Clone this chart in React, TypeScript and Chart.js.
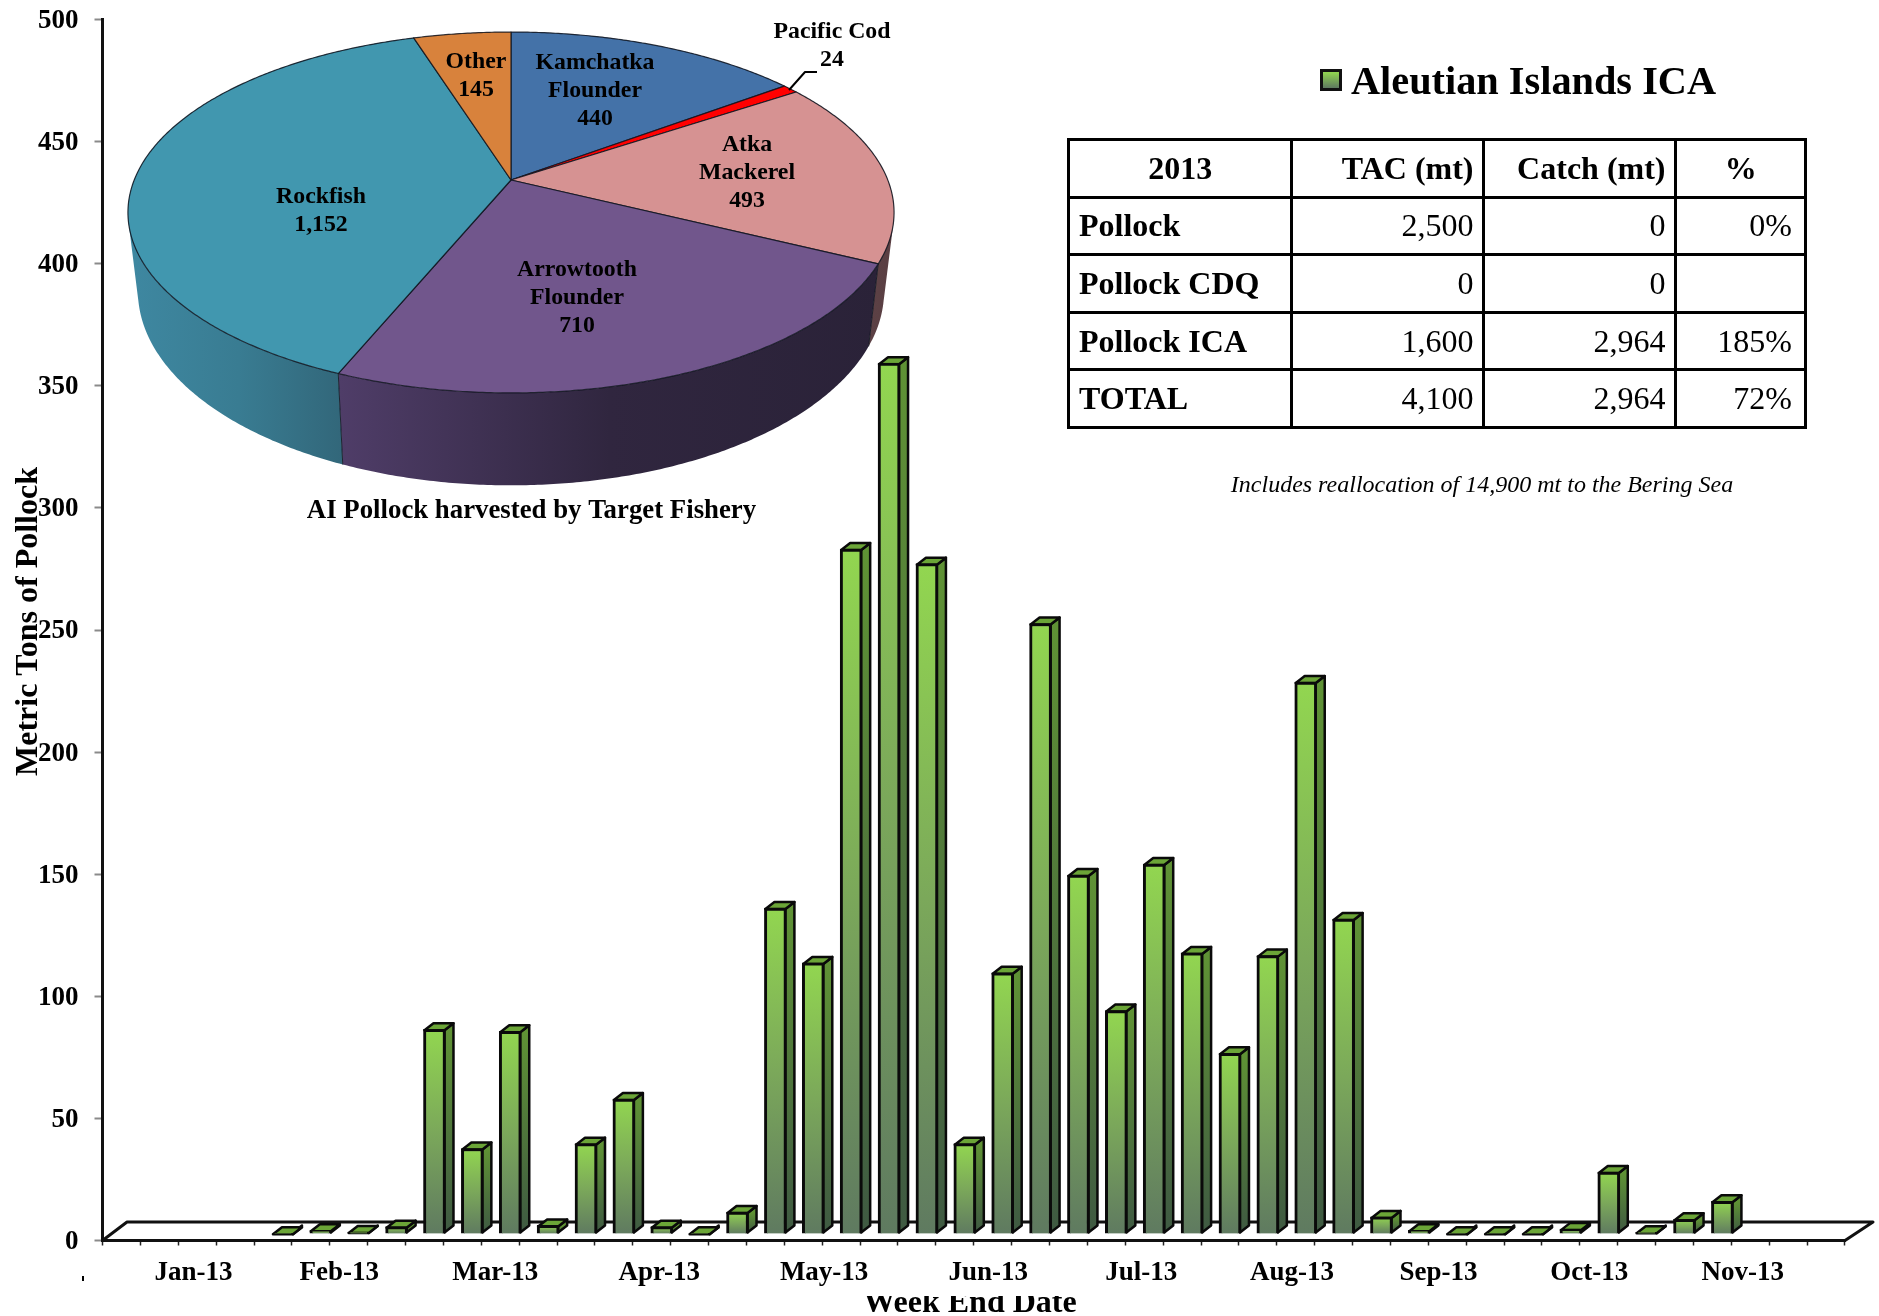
import React, { useEffect, useRef } from "react";
import { Chart, registerables } from "chart.js";

Chart.register(...registerables);

// ---- data ----
const weekIndex = Array.from({ length: 46 }, (_, i) => String(i + 1));
const weeklyCatch = [
  0, 0, 0, 0, 0.3, 1.5, 0.8, 3, 83.8, 35, 83, 3.5, 37, 55.3, 3, 0.3, 9, 133.5, 111, 280.5, 356.6, 274.5, 37, 107, 250,
  147, 91.5, 151.5, 115.1, 74, 114, 226, 129, 7, 1.5, 0.3, 0.3, 0.3, 2, 25.4, 0.7, 6, 13.4, 0, 0, 0,
];
const monthLabels = ["Jan-13", "Feb-13", "Mar-13", "Apr-13", "May-13", "Jun-13", "Jul-13", "Aug-13", "Sep-13", "Oct-13", "Nov-13"];
const monthWeekCenters = [2.4, 6.25, 10.37, 14.7, 19.05, 23.38, 27.42, 31.4, 35.27, 39.25, 43.3];

const pieCategories = ["Kamchatka\nFlounder", "Pacific Cod", "Atka\nMackerel", "Arrowtooth\nFlounder", "Rockfish", "Other"];
const pieValues = [440, 24, 493, 710, 1152, 145];
const pieColors = ["#4472A8", "#FF0000", "#D69292", "#71568C", "#4197AF", "#D8823C"];

const tableHeader = ["2013", "TAC (mt)", "Catch (mt)", "%"];
const tableRows = ["Pollock", "Pollock CDQ", "Pollock ICA", "TOTAL"];
const tableTac = ["2,500", "0", "1,600", "4,100"];
const tableCatch = ["0", "0", "2,964", "2,964"];
const tablePct = ["0%", "", "185%", "72%"];

const legendTitle = "Aleutian Islands ICA";
const footnote = "Includes reallocation of 14,900 mt to the Bering Sea";
const pieTitle = "AI Pollock harvested by Target Fishery";
const yTitle = "Metric Tons of Pollock";
const xTitle = "Week End Date";

// ---- style ----
const SERIF = '"Liberation Serif", "Times New Roman", serif';
const BAR_SHIFT_X = 10;
const BAR_SHIFT_Y = -6.5;
const DEPTH_X = 9;
const DEPTH_Y = 7;

const bars3d = {
  id: "bars3d",
  beforeDatasetsDraw(chart: any) {
    const { ctx, chartArea: a } = chart;
    ctx.save();
    ctx.strokeStyle = "#111";
    ctx.lineWidth = 3;
    ctx.lineJoin = "round";
    ctx.beginPath();
    ctx.moveTo(a.left, a.bottom);
    ctx.lineTo(127, 1222);
    ctx.lineTo(1873, 1222);
    ctx.lineTo(a.right, a.bottom);
    ctx.stroke();
    ctx.restore();
  },
  beforeDatasetDraw(chart: any, args: any) {
    const { ctx } = chart;
    ctx.save();
    ctx.translate(BAR_SHIFT_X, BAR_SHIFT_Y);
    ctx.lineJoin = "round";
    ctx.lineWidth = 2.5;
    ctx.strokeStyle = "#0a0a0a";
    args.meta.data.forEach((el: any, i: number) => {
      if (!weeklyCatch[i]) return;
      const { x, y, base, width } = el.getProps(["x", "y", "base", "width"], true);
      const l = x - width / 2 + 1;
      const r = x + width / 2 - 1;
      const top = y + 1;
      const bot = base - 1;
      const side = ctx.createLinearGradient(0, top, 0, bot);
      side.addColorStop(0, "#5F9235");
      side.addColorStop(1, "#3F5A42");
      ctx.fillStyle = side;
      ctx.beginPath();
      ctx.moveTo(r, top);
      ctx.lineTo(r + DEPTH_X, top - DEPTH_Y);
      ctx.lineTo(r + DEPTH_X, bot - DEPTH_Y);
      ctx.lineTo(r, bot);
      ctx.closePath();
      ctx.fill();
      ctx.stroke();
      ctx.fillStyle = "#6BA537";
      ctx.beginPath();
      ctx.moveTo(l, top);
      ctx.lineTo(l + DEPTH_X, top - DEPTH_Y);
      ctx.lineTo(r + DEPTH_X, top - DEPTH_Y);
      ctx.lineTo(r, top);
      ctx.closePath();
      ctx.fill();
      ctx.stroke();
    });
  },
  afterDatasetDraw(chart: any) {
    chart.ctx.restore();
  },
  afterDraw(chart: any) {
    const { ctx } = chart;
    ctx.save();
    ctx.fillStyle = "#000";
    ctx.textBaseline = "alphabetic";
    // y title, overprinting the tick labels as in the source
    ctx.save();
    ctx.translate(37, 621.5);
    ctx.rotate(-Math.PI / 2);
    ctx.textAlign = "center";
    ctx.font = `bold 32px ${SERIF}`;
    ctx.fillText(yTitle, 0, 0);
    ctx.restore();
    // x title, its top cut off as in the source
    ctx.save();
    ctx.beginPath();
    ctx.rect(0, 1296, 1879, 20);
    ctx.clip();
    ctx.textAlign = "center";
    ctx.font = `bold 32px ${SERIF}`;
    ctx.fillText(xTitle, 970, 1312);
    ctx.restore();
    ctx.fillRect(82, 1276, 2, 5);
    ctx.restore();
  },
};

// Perspective projection of the pie's rims: slice angles come from the arc elements.
const PIE_CX = 511;
const PIE_P = -0.18;
const PIE_TOP = { a: 376.8, b: 142.2, c: 180 };
const PIE_BOTTOM = { a: 367, b: 142, c: 256 };
const project = (rim: { a: number; b: number; c: number }, t: number): [number, number] => {
  const x = Math.cos(t);
  const y = Math.sin(t);
  const d = 1 + PIE_P * y;
  return [PIE_CX + (rim.a * x) / d, (rim.b * y + rim.c) / d];
};
const wallStops = [
  ["#3E6C9C", "#3E6C9C", "#3E6C9C"],
  ["#C00000", "#C00000", "#C00000"],
  ["#5E4347", "#5C4145", "#5A3F43"],
  ["#4F3D68", "#30263F", "#2A2238"],
  ["#3E87A0", "#397C92", "#32677A"],
  ["#C0702F", "#C0702F", "#C0702F"],
];
const wallRanges = [
  [600, 800],
  [780, 800],
  [860, 885],
  [340, 880],
  [135, 342],
  [400, 480],
];
const pieLabelPos = [
  [595, 91],
  [832, 46],
  [747, 173],
  [577, 298],
  [321, 211],
  [476, 76],
];

const pie3d = {
  id: "pie3d",
  beforeDatasetsDraw(chart: any) {
    const { ctx } = chart;
    const arcs = chart.getDatasetMeta(0).data;
    const step = Math.PI / 360;
    const rimPath = (rim: any, s: number, e: number) => {
      const pts: [number, number][] = [];
      const n = Math.max(2, Math.ceil((e - s) / step));
      for (let i = 0; i <= n; i++) pts.push(project(rim, s + ((e - s) * i) / n));
      return pts;
    };
    ctx.save();
    ctx.lineJoin = "round";
    // walls: one same-winding quad per rim step in one path, so the silhouette runs straight between the rims
    arcs.forEach((arc: any, i: number) => {
      const { startAngle: s, endAngle: e } = arc.getProps(["startAngle", "endAngle"], true);
      const g = ctx.createLinearGradient(wallRanges[i][0], 0, wallRanges[i][1], 0);
      g.addColorStop(0, wallStops[i][0]);
      g.addColorStop(0.5, wallStops[i][1]);
      g.addColorStop(1, wallStops[i][2]);
      const top = rimPath(PIE_TOP, s, e);
      const bottom = rimPath(PIE_BOTTOM, s, e);
      ctx.fillStyle = g;
      ctx.beginPath();
      for (let k = 0; k < top.length - 1; k++) {
        const q = [top[k], top[k + 1], bottom[k + 1], bottom[k]];
        let area = 0;
        q.forEach((p, j) => {
          const n = q[(j + 1) % 4];
          area += p[0] * n[1] - n[0] * p[1];
        });
        const ordered = area < 0 ? q.slice().reverse() : q;
        ordered.forEach(([x, y], j) => (j ? ctx.lineTo(x, y) : ctx.moveTo(x, y)));
        ctx.closePath();
      }
      ctx.fill("nonzero");
      ctx.strokeStyle = "rgba(15,20,30,0.85)";
      ctx.lineWidth = 1;
      ctx.beginPath();
      ctx.moveTo(top[0][0], top[0][1]);
      ctx.lineTo(bottom[0][0], bottom[0][1]);
      ctx.stroke();
    });
    // top faces
    arcs.forEach((arc: any) => {
      const { startAngle: s, endAngle: e } = arc.getProps(["startAngle", "endAngle"], true);
      ctx.fillStyle = arc.options.backgroundColor;
      ctx.strokeStyle = "rgba(15,20,30,0.85)";
      ctx.lineWidth = 1.2;
      ctx.beginPath();
      ctx.moveTo(PIE_CX, PIE_TOP.c);
      rimPath(PIE_TOP, s, e).forEach(([x, y]) => ctx.lineTo(x, y));
      ctx.closePath();
      ctx.fill();
      ctx.stroke();
    });
    // labels
    ctx.fillStyle = "#000";
    ctx.textAlign = "center";
    ctx.textBaseline = "middle";
    ctx.font = `bold 23.8px ${SERIF}`;
    pieCategories.forEach((name, i) => {
      const lines = [...name.split("\n"), pieValues[i].toLocaleString("en-US")];
      lines.forEach((line, k) => {
        ctx.fillText(line, pieLabelPos[i][0], pieLabelPos[i][1] + (k - (lines.length - 1) / 2) * 27.8);
      });
    });
    // leader line of the thin slice
    ctx.strokeStyle = "#000";
    ctx.lineWidth = 2;
    ctx.beginPath();
    ctx.moveTo(789, 90);
    ctx.lineTo(805, 72);
    ctx.lineTo(817, 72);
    ctx.stroke();
    ctx.font = `bold 26.8px ${SERIF}`;
    ctx.fillText(pieTitle, 531.5, 511.5);
    ctx.restore();
    return false;
  },
};

const cellBase: React.CSSProperties = {
  border: "3px solid #000",
  padding: "0 8px 0 9px",
  font: `32px ${SERIF}`,
  color: "#000",
  whiteSpace: "nowrap",
  overflow: "hidden",
};

export default function App() {
  const barRef = useRef<HTMLCanvasElement>(null);
  const pieRef = useRef<HTMLCanvasElement>(null);

  useEffect(() => {
    const bar = new Chart(barRef.current as HTMLCanvasElement, {
      type: "bar",
      data: {
        labels: weekIndex,
        datasets: [
          {
            label: legendTitle,
            data: weeklyCatch,
            barThickness: 22,
            borderColor: "#0a0a0a",
            borderWidth: 3,
            clip: false,
            backgroundColor: (c: any) => {
              const sc = c.chart.scales.y;
              const v = c.parsed ? c.parsed.y : NaN;
              const y0 = sc ? sc.getPixelForValue(v) : NaN;
              const y1 = sc ? sc.getPixelForValue(0) : NaN;
              if (!Number.isFinite(y0) || !Number.isFinite(y1)) return "#7BA85A";
              const g = c.chart.ctx.createLinearGradient(0, y0, 0, y1);
              g.addColorStop(0, "#92D650");
              g.addColorStop(0.5, "#7BA85A");
              g.addColorStop(1, "#5F7A60");
              return g;
            },
          } as any,
        ],
      },
      options: {
        responsive: false,
        animation: false,
        devicePixelRatio: 1,
        layout: { padding: { top: 19.5, right: 34, left: 0, bottom: 0 } },
        plugins: { legend: { display: false }, tooltip: { enabled: false } },
        scales: {
          x: {
            type: "category",
            offset: true,
            ticks: { display: false, autoSkip: false },
            grid: { display: true, offset: true, drawOnChartArea: false, drawTicks: true, tickLength: 5, tickWidth: 1.5, tickColor: "#222" },
            border: { color: "#111", width: 3 },
            afterFit: (s: any) => { s.height = 6; },
          },
          xMonths: {
            type: "linear",
            position: "bottom",
            offset: false,
            min: 0,
            max: 46,
            afterBuildTicks: (s: any) => { s.ticks = monthWeekCenters.map((value) => ({ value })); },
            ticks: {
              autoSkip: false,
              maxRotation: 0,
              padding: 10,
              color: "#000",
              font: { family: SERIF, size: 27, weight: "bold" },
              callback: (_v: any, i: number) => monthLabels[i],
            },
            grid: { display: false, drawTicks: false },
            border: { display: false },
            afterFit: (s: any) => { s.height = 69.5; s.paddingLeft = 0; s.paddingRight = 0; },
          },
          y: {
            min: 0,
            max: 500,
            ticks: {
              stepSize: 50,
              padding: 16,
              labelOffset: 1.5,
              color: "#000",
              font: { family: SERIF, size: 27, weight: "bold" },
            },
            grid: { drawOnChartArea: false, tickLength: 8, tickWidth: 2, tickColor: "#8A8A8A" },
            border: { color: "#111", width: 3 },
            afterFit: (s: any) => { s.width = 102.5; s.paddingTop = 0; s.paddingBottom = 0; },
          },
        },
      } as any,
      plugins: [bars3d],
    });

    const pie = new Chart(pieRef.current as HTMLCanvasElement, {
      type: "pie",
      data: {
        labels: pieCategories.map((c) => c.replace("\n", " ")),
        datasets: [{ data: pieValues, backgroundColor: pieColors, borderWidth: 0 }],
      },
      options: {
        responsive: false,
        animation: false,
        devicePixelRatio: 1,
        plugins: { legend: { display: false }, tooltip: { enabled: false } },
      } as any,
      plugins: [pie3d],
    });

    return () => {
      bar.destroy();
      pie.destroy();
    };
  }, []);

  return (
    <div style={{ position: "absolute", left: 0, top: 0, width: 1879, height: 1316, overflow: "hidden", background: "#fff", fontFamily: SERIF }}>
      <canvas ref={barRef} width={1879} height={1316} style={{ position: "absolute", left: 0, top: 0, display: "block" }} />
      <canvas ref={pieRef} width={1000} height={560} style={{ position: "absolute", left: 0, top: 0, display: "block", pointerEvents: "none" }} />

      <div
        style={{
          position: "absolute",
          left: 1320,
          top: 69,
          width: 22,
          height: 22,
          boxSizing: "border-box",
          border: "3px solid #111",
          background: "linear-gradient(#92D650, #5F7A60)",
        }}
      />
      <div style={{ position: "absolute", left: 1351, top: 57, font: `bold 40.3px/48px ${SERIF}`, color: "#000", whiteSpace: "nowrap" }}>{legendTitle}</div>

      <table
        style={{
          position: "absolute",
          left: 1067,
          top: 138,
          width: 737,
          height: 288,
          borderCollapse: "collapse",
          tableLayout: "fixed",
        }}
      >
        <colgroup>
          <col style={{ width: 222.5 }} />
          <col style={{ width: 192 }} />
          <col style={{ width: 192 }} />
          <col style={{ width: 130.5 }} />
        </colgroup>
        <tbody>
          <tr style={{ height: 57.6 }}>
            {tableHeader.map((h, i) => (
              <td key={h} style={{ ...cellBase, fontWeight: "bold", textAlign: i === 0 || i === 3 ? "center" : "right" }}>
                {h}
              </td>
            ))}
          </tr>
          {tableRows.map((name, i) => (
            <tr key={name} style={{ height: 57.6 }}>
              <td style={{ ...cellBase, fontWeight: "bold", textAlign: "left" }}>{name}</td>
              <td style={{ ...cellBase, textAlign: "right" }}>{tableTac[i]}</td>
              <td style={{ ...cellBase, textAlign: "right" }}>{tableCatch[i]}</td>
              <td style={{ ...cellBase, textAlign: "right", paddingRight: 12 }}>{tablePct[i]}</td>
            </tr>
          ))}
        </tbody>
      </table>

      <div
        style={{
          position: "absolute",
          left: 1182,
          width: 600,
          top: 469,
          textAlign: "center",
          font: `italic 24px/30px ${SERIF}`,
          color: "#000",
          whiteSpace: "nowrap",
        }}
      >
        {footnote}
      </div>
    </div>
  );
}
